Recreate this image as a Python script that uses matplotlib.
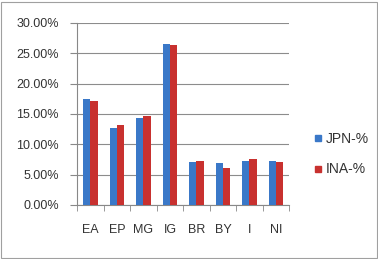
import matplotlib
matplotlib.use("Agg")
import matplotlib.pyplot as plt
import numpy as np
from matplotlib.patches import Rectangle
from matplotlib.lines import Line2D

categories = ["EA", "EP", "MG", "IG", "BR", "BY", "I", "NI"]
jpn = [17.4, 12.7, 14.4, 26.5, 7.1, 6.9, 7.2, 7.2]
ina = [17.2, 13.2, 14.7, 26.3, 7.3, 6.1, 7.6, 7.1]
yticks = [0, 5, 10, 15, 20, 25, 30]

plt.rcParams['font.family'] = ['Liberation Sans', 'DejaVu Sans']
fig = plt.figure(figsize=(3.78, 2.59), dpi=100)
ax = fig.add_axes([0.204, 0.2085, 0.561, 0.703])

blue = "#3a78c8"
red = "#c8312f"
txt = "#333333"
x = np.arange(len(categories))
w = 0.275
ax.bar(x - w/2, jpn, width=w, color=blue, zorder=3, label="JPN-%")
ax.bar(x + w/2, ina, width=w, color=red, zorder=3, label="INA-%")

ax.set_xlim(-0.5, len(categories) - 0.5)
ax.set_ylim(0, 30)
ax.set_yticks(yticks)
ax.set_yticklabels([f"{v:.2f}%" for v in yticks], fontsize=9, color=txt)
ax.set_xticks(x)
ax.set_xticklabels(categories, fontsize=9, color=txt)
ax.set_xticks(np.arange(-0.5, len(categories)), minor=True)
ax.tick_params(axis='x', which='major', length=0, pad=14)
ax.tick_params(axis='x', which='minor', length=4, color="#888888")
ax.tick_params(axis='y', length=5, color="#888888", pad=8)
ax.yaxis.grid(True, color="#8c8c8c", linewidth=0.8, zorder=0)
for s in ["top", "right"]:
    ax.spines[s].set_visible(False)
for s in ["left", "bottom"]:
    ax.spines[s].set_color("#888888")
    ax.spines[s].set_linewidth(0.8)

handles = [Line2D([], [], marker='s', linestyle='', color=blue, markersize=5),
           Line2D([], [], marker='s', linestyle='', color=red, markersize=5)]
fig.legend(handles, ["JPN-%", "INA-%"], loc='center left', bbox_to_anchor=(0.79, 0.405),
           frameon=False, fontsize=10, handletextpad=0.05, labelspacing=1.2, handlelength=1.0,
           labelcolor=txt)

fig.patches.append(Rectangle((0.003, 0.004), 0.994, 0.99, transform=fig.transFigure,
                             fill=False, edgecolor="#a0a0a0", linewidth=0.8))
fig.savefig("out.png", dpi=100)
